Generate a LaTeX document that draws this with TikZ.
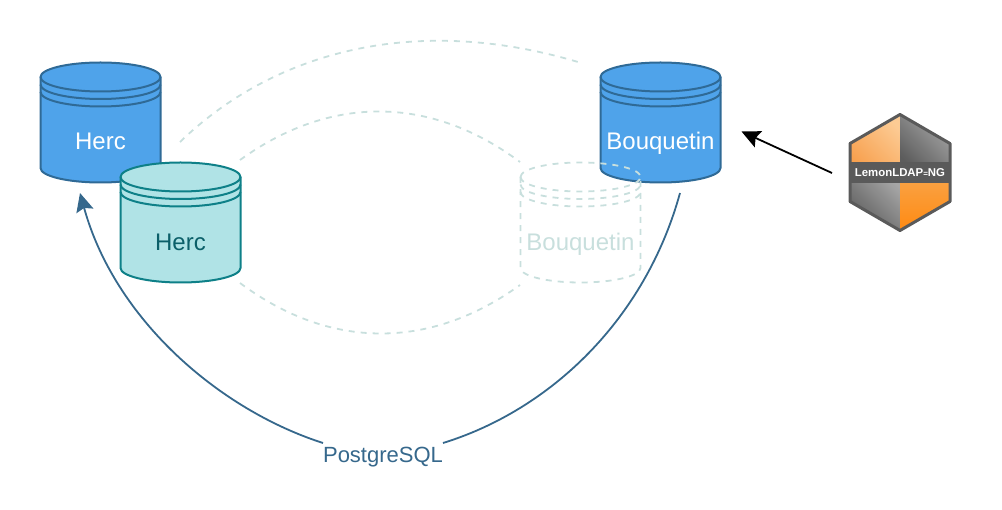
\documentclass[tikz,border=0pt]{standalone}
\usepackage{fontspec}
\setmainfont{Liberation Sans}
\usetikzlibrary{arrows.meta}
\definecolor{bluefill}{HTML}{4FA3EA}
\definecolor{bluedraw}{HTML}{2F6A96}
\definecolor{tealfill}{HTML}{B0E3E6}
\definecolor{tealdraw}{HTML}{0E8088}
\definecolor{tealtext}{HTML}{0B5F69}
\definecolor{ghost}{HTML}{C8DFDD}
\definecolor{arcblue}{HTML}{36688C}
\definecolor{logoedge}{HTML}{5A5A5A}
\definecolor{orA}{HTML}{FCCB94}
\definecolor{orB}{HTML}{F7A04E}
\definecolor{orC}{HTML}{F9A54A}
\definecolor{orD}{HTML}{FF8A12}
\definecolor{grA}{HTML}{A6A6A6}
\definecolor{grB}{HTML}{5C5C5C}
\colorlet{cylbluetext}{white}
\colorlet{cyltealtext}{tealtext}
\tikzset{
  cylblue/.style={draw=bluedraw,line width=2pt},
  cylteal/.style={draw=tealdraw,line width=2pt},
  cylghost/.style={draw=ghost,line width=1.8pt,dash pattern=on 6pt off 6pt},
  cyltext/.style={font=\fontsize{24}{28}\selectfont,anchor=base,inner sep=0pt},
  cylframe/.style={minimum width=120pt,minimum height=120pt,inner sep=0pt},
  ghostlink/.style={draw=ghost,line width=1.8pt,dash pattern=on 6pt off 6pt},
  arclink/.style={draw=arcblue,line width=1.8pt},
  headtip/.style={-{Stealth[length=18.5pt,width=17.5pt,inset=3pt]}},
  dblabel/.style={font=\fontsize{22}{26}\selectfont,text=arcblue,fill=white,inner sep=0pt}
}
% #1 node name, #2 cx, #3 top y, #4 fill, #5 style, #6 text, #7 baseline offset
\newcommand{\dbcyl}[7]{%
  \path[#5,fill=#4,line join=round]
    (#2-60,#3+14.5) arc[start angle=180,end angle=360,x radius=60,y radius=14.5]
    -- (#2+60,#3+105.5) arc[start angle=0,end angle=180,x radius=60,y radius=14.5] -- cycle;
  \path[#5] (#2-60,#3+14.5) arc[start angle=180,end angle=0,x radius=60,y radius=14.5];
  \path[#5] (#2-60,#3+22) arc[start angle=180,end angle=0,x radius=60,y radius=14.5];
  \path[#5] (#2-60,#3+29.5) arc[start angle=180,end angle=0,x radius=60,y radius=14.5];
  \node[cylframe] (#1) at (#2,#3+60) {};
  \node[cyltext,text=#5text] (#1-label) at (#2,#3+#7) {#6};
}
\begin{document}
\begin{tikzpicture}[x=1pt,y=-1pt]
\useasboundingbox (0,0) rectangle (1002,510);
% ghost connectors
\coordinate (topA) at (180,142);
\coordinate (topB) at (578,62);
\coordinate (midA) at (240,160);
\coordinate (midB) at (520,162);
\coordinate (lowA) at (240,283);
\coordinate (lowB) at (520,285);
\path[ghostlink] (topA) .. controls (270,55) and (410,12) .. (topB);
\path[ghostlink] (midA) .. controls (330,95) and (430,95) .. (midB);
\path[ghostlink] (lowA) .. controls (330,350) and (430,350) .. (lowB);
% cylinders
\dbcyl{hercblue}{100.5}{62.5}{bluefill}{cylblue}{Herc}{87}
\dbcyl{bouqblue}{660.5}{62.5}{bluefill}{cylblue}{Bouquetin}{87}
\dbcyl{hercteal}{180.5}{162.5}{tealfill}{cylteal}{Herc}{87.7}
% ghost Bouquetin, unfilled
\path[cylghost]
    (520.5,177) arc[start angle=180,end angle=360,x radius=60,y radius=14.5]
    -- (640.5,268) arc[start angle=0,end angle=180,x radius=60,y radius=14.5] -- cycle;
\path[cylghost] (520.5,177) arc[start angle=180,end angle=0,x radius=60,y radius=14.5];
\path[cylghost] (520.5,184.5) arc[start angle=180,end angle=0,x radius=60,y radius=14.5];
\path[cylghost] (520.5,192) arc[start angle=180,end angle=0,x radius=60,y radius=14.5];
\node[cylframe] (bouqghost) at (580.5,222.5) {};
\node[cyltext,text=ghost] (bouqghost-label) at (580.5,250.2) {Bouquetin};
% PostgreSQL arcs
\node[dblabel] (pg) at (383,457) {PostgreSQL};
\coordinate (pgL) at (323,443);
\coordinate (pgR) at (443,443);
\coordinate (hercIn) at (80,193);
\coordinate (bouqOut) at (680,193);
\path[arclink,headtip] (pgL) .. controls (220,410) and (115,320) .. (hercIn);
\path[arclink] (bouqOut) .. controls (645,320) and (550,410) .. (pgR);
% logo
\node[minimum width=102pt,minimum height=119pt,inner sep=0pt] (logo) at (900,172) {};
\begin{scope}
  \clip (900,114.5) -- (950,143.5) -- (950,201.5) -- (900,230.5) -- (850,201.5) -- (850,143.5) -- cycle;
  \shade[left color=orA,right color=orB,shading angle=-45] (849,113) rectangle (900,172);
  \shade[left color=grA,right color=grB,shading angle=-45] (900,113) rectangle (951,172);
  \shade[left color=grA,right color=grB,shading angle=-45] (849,172) rectangle (900,231);
  \shade[top color=orC,bottom color=orD] (900,172) rectangle (951,231);
  \fill[logoedge] (849,162) rectangle (951,183);
\end{scope}
\path[draw=logoedge,line width=3pt,line join=round] (900,114.5) -- (950,143.5) -- (950,201.5) -- (900,230.5) -- (850,201.5) -- (850,143.5) -- cycle;
\node[font=\bfseries\fontsize{11.4}{12}\selectfont,text=white,inner sep=0pt] (logotext) at (900,172.5) {LemonLDAP{\fontsize{8}{8}\selectfont=}NG};
% logo arrow
\coordinate (logoOut) at (832,173);
\coordinate (bouqIn) at (741.5,131.5);
\draw[line width=1.8pt,black,headtip] (logoOut) -- (bouqIn);
\end{tikzpicture}
\end{document}
